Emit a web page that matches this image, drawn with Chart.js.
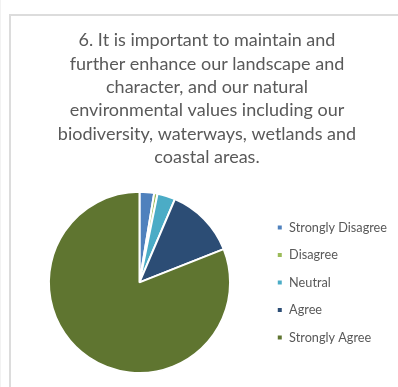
<!DOCTYPE html>
<html>
<head>
<meta charset="utf-8">
<title>Landscape and environmental values</title>
<script src="https://cdn.jsdelivr.net/npm/chart.js"></script>
<style>
  html, body { margin: 0; padding: 0; background: #fff; }
  body { width: 398px; height: 387px; position: relative; overflow: hidden; }
  #frame {
    position: absolute; left: 9px; top: 14px; width: 400px; height: 400px;
    border-left: 2px solid #dcdcdc; border-top: 2px solid #dcdcdc;
  }
  #edge { position: absolute; left: 0; top: 0; width: 1px; height: 387px; background: #f2f2f2; }
  #wrap { position: absolute; left: 0; top: 0; width: 398px; height: 387px; }
</style>
</head>
<body>
<div id="edge"></div>
<div id="frame"></div>
<div id="wrap"><canvas id="chart" width="398" height="387"></canvas></div>

<script>
  // Answer categories (legend order)
  const categories = ["Strongly Disagree", "Disagree", "Neutral", "Agree", "Strongly Agree"];
  // Share of responses, %
  const shares = [2.6, 0.6, 3.2, 12.6, 81.0];
  const colors = ["#4f81bd", "#9bbb59", "#4bacc6", "#2c4d75", "#5f7530"];

  const titleLines = [
    "6. It is important to maintain and",
    "further enhance our landscape and",
    "character, and our natural",
    "environmental values including our",
    "biodiversity, waterways, wetlands and",
    "coastal areas."
  ];

  new Chart(document.getElementById("chart"), {
    type: "pie",
    data: {
      labels: categories,
      datasets: [{
        data: shares,
        backgroundColor: colors,
        borderColor: "#ffffff",
        borderWidth: 2
      }]
    },
    options: {
      responsive: false,
      animation: false,
      layout: { padding: { left: 17, right: 1, top: 0, bottom: 13 } },
      plugins: {
        title: {
          display: true,
          text: titleLines,
          color: "#595959",
          font: { family: "Lato", size: 18, weight: "normal", lineHeight: 1.295 },
          padding: { top: 29, bottom: 22 }
        },
        legend: {
          position: "right",
          fullSize: false,
          labels: {
            boxWidth: 6,
            boxHeight: 6,
            padding: 14.8,
            color: "#595959",
            font: { family: "Lato", size: 12.7 }
          }
        },
        tooltip: { enabled: false }
      }
    }
  });
</script>
</body>
</html>
